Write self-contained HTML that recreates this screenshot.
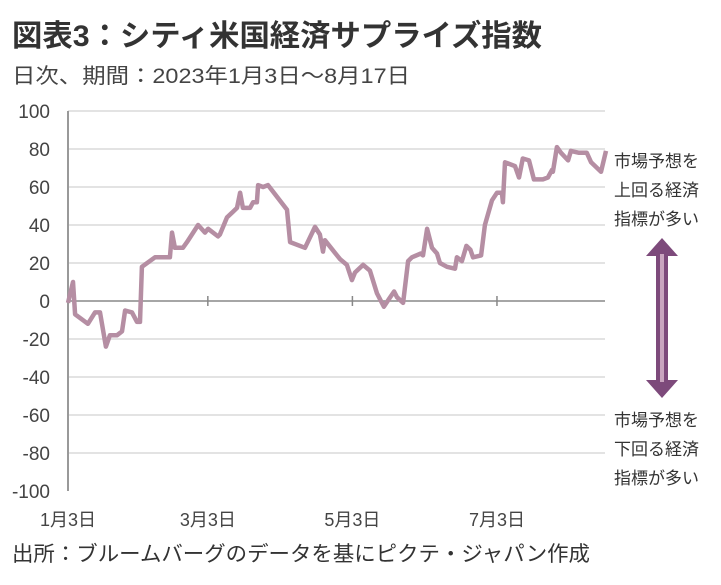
<!DOCTYPE html>
<html><head><meta charset="utf-8"><style>
body{margin:0;background:#fff;}
svg text{font-family:"Liberation Sans","Noto Sans CJK JP",sans-serif;}
</style></head><body>
<svg width="721" height="580" viewBox="0 0 721 580">
<text x="12" y="46" font-size="30" font-weight="bold" fill="#333" textLength="530" lengthAdjust="spacingAndGlyphs">図表3：シティ米国経済サプライズ指数</text>
<text x="12" y="83" font-size="21" fill="#444" textLength="398" lengthAdjust="spacingAndGlyphs">日次、期間：2023年1月3日～8月17日</text>
<g id="grid"></g>
<g id="yt"></g>
<g id="xt"></g>
<path id="line" fill="none" stroke="#b58ea3" stroke-width="4.5" stroke-linejoin="round"/>
<g font-size="17" fill="#333">
<text x="614" y="167">市場予想を</text><text x="614" y="196">上回る経済</text><text x="614" y="225">指標が多い</text></g>
<g font-size="17" fill="#333">
<text x="614" y="426">市場予想を</text><text x="614" y="455">下回る経済</text><text x="614" y="484">指標が多い</text></g>
<g>
<path d="M662 238 L678 256 L668 256 L668 380 L678 380 L662 398 L646 380 L656 380 L656 256 L646 256 Z" fill="#7d4a7b"/>
<rect x="660" y="254" width="4" height="128" fill="#c9a5bf"/>
</g>
<text x="12" y="561" font-size="21" fill="#333" textLength="578" lengthAdjust="spacingAndGlyphs">出所：ブルームバーグのデータを基にピクテ・ジャパン作成</text>
</svg>
<script>
const yTicks=[100,80,60,40,20,0,-20,-40,-60,-80,-100];
const xTickDays=[0,59,120,181];
const xTickLabels=["1月3日","3月3日","5月3日","7月3日"];
const days=[0,2.1,3,8.4,11.4,13.5,16,17.7,20.7,22.8,24.1,27,29.1,30.4,31.2,36.7,38,43,43.9,45.1,48.5,50.2,54.9,57.8,59.1,63.3,64.1,67.1,69.6,71.3,72.6,73.8,76.8,78.1,79.7,80.2,82.3,84.4,92.4,93.7,100,104.2,106.3,107.6,108.4,113.5,114.8,117.7,119.8,121.1,124.5,127.4,130.4,133.3,135.4,137.6,138.8,141.4,143.5,145.1,148.9,149.8,151.5,153.6,155.7,156.9,159.9,163.3,164.1,166.2,168.1,169.8,170.9,174.3,175.9,178.9,181,183.1,183.5,184.4,188.6,190.3,191.9,194.5,196.6,200.4,202.5,204.2,204.6,206.3,208,211,212.2,215.6,218.9,220.7,224.9,227];
const values=[-1,10,-7,-12,-6,-6,-24,-18,-18,-16,-5,-6,-11,-11,18,23,23,23,36,28,28,31,40,36,38,34,35,44,47,49,57,49,49,52,52,61,60,61,48,31,28,39,35,26,32,24,22,19,11,15,19,16,4,-3,1,5,2,-1,21,23,25,24,38,28,25,20,18,17,23,21,29,27,23,24,40,53,57,57,52,73,71,65,75,74,64,64,65,69,68,81,78,74,79,78,78,73,68,79];
const NS="http://www.w3.org/2000/svg";
const X=d=>68+d*2.37, Y=v=>301-v*1.9;
const grid=document.getElementById('grid'), yt=document.getElementById('yt'), xt=document.getElementById('xt');
yTicks.forEach(v=>{
  if(v!==0&&v!==-100){const l=document.createElementNS(NS,'line');
  
  
  l.setAttribute('x1',68);l.setAttribute('x2',605);l.setAttribute('y1',Y(v));l.setAttribute('y2',Y(v));
  l.setAttribute('stroke','#e3e3e3');l.setAttribute('stroke-width','2');grid.appendChild(l);}
  const t=document.createElementNS(NS,'text');
  
  
  t.setAttribute('x',50);t.setAttribute('y',Y(v)+7);t.setAttribute('text-anchor','end');
  t.setAttribute('font-size','19');t.setAttribute('fill','#444');t.textContent=v;yt.appendChild(t);
});
const ax=document.createElementNS(NS,'line');


ax.setAttribute('x1',68);ax.setAttribute('x2',68);ax.setAttribute('y1',Y(100));ax.setAttribute('y2',Y(-100));
ax.setAttribute('stroke','#999');ax.setAttribute('stroke-width','2');grid.appendChild(ax);
const zl=document.createElementNS(NS,'line');


zl.setAttribute('x1',68);zl.setAttribute('x2',605);zl.setAttribute('y1',Y(0));zl.setAttribute('y2',Y(0));
zl.setAttribute('stroke','#888');zl.setAttribute('stroke-width','1.5');grid.appendChild(zl);
xTickDays.forEach((d,i)=>{
  if(i>0){const m=document.createElementNS(NS,'line');
  
  
  m.setAttribute('x1',X(d));m.setAttribute('x2',X(d));m.setAttribute('y1',Y(0)-5);m.setAttribute('y2',Y(0)+5);
  m.setAttribute('stroke','#888');m.setAttribute('stroke-width','1.5');xt.appendChild(m);}
  const t=document.createElementNS(NS,'text');
  
  
  t.setAttribute('x',X(d));t.setAttribute('y',526);t.setAttribute('text-anchor','middle');
  t.setAttribute('font-size','18');t.setAttribute('fill','#444');t.textContent=xTickLabels[i];xt.appendChild(t);
});
document.getElementById('line').setAttribute('d',days.map((d,i)=>(i?'L':'M')+X(d).toFixed(1)+' '+Y(values[i]).toFixed(1)).join(' '));
</script>
</body></html>
